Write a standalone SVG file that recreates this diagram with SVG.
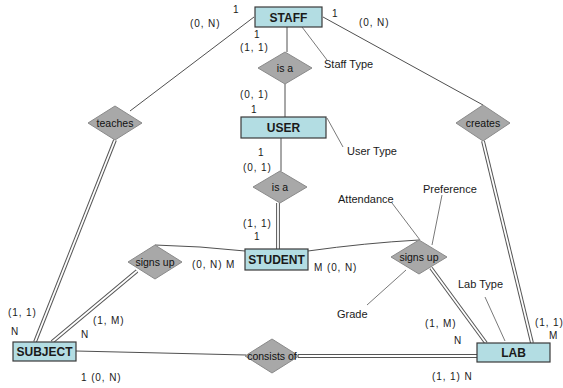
<svg xmlns="http://www.w3.org/2000/svg" width="563" height="388" viewBox="0 0 563 388">
  <style>
    text { font-family: "Liberation Sans", Arial, sans-serif; fill: #1a1a1a; }
    .ent rect { fill: #b3dde3; stroke: #3a3a3a; stroke-width: 1.2; }
    .ent text { font-size: 12px; font-weight: bold; text-anchor: middle; }
    .rel polygon { fill: #a8a8a8; stroke: #8a8a8a; stroke-width: 1; }
    .rel text { font-size: 10.5px; text-anchor: middle; fill: #111; }
    .one { stroke: #505050; stroke-width: 1; fill: none; }
    .attr { stroke: #6a6a6a; stroke-width: 0.9; fill: none; }
    .dbl-out { stroke: #555555; stroke-width: 3.8; fill: none; }
    .dbl-in { stroke: #ffffff; stroke-width: 1.8; fill: none; }
    .card { font-size: 10px; letter-spacing: 0.9px; }
    .lbl { font-size: 11px; }
  </style>

  <!-- connectors -->
  <g id="connectors">
    <!-- single lines -->
    <line class="one" x1="287" y1="27" x2="287" y2="52"/>
    <line class="one" x1="285" y1="84" x2="285" y2="117"/>
    <line class="one" x1="281" y1="138" x2="281" y2="171"/>
    <line class="one" x1="254" y1="17" x2="130" y2="111"/>
    <line class="one" x1="323" y1="17" x2="483" y2="105"/>
    <path class="one" d="M245,251 Q200,246 155,245"/>
    <path class="one" d="M308,251 Q365,243 419,240"/>
    <line class="one" x1="76" y1="351" x2="246" y2="355"/>
    <!-- attribute lines -->
    <line class="attr" x1="302" y1="27" x2="327" y2="60"/>
    <line class="attr" x1="327" y1="118" x2="343" y2="147"/>
    <line class="attr" x1="392" y1="203" x2="420" y2="240"/>
    <line class="attr" x1="442" y1="195" x2="432" y2="245"/>
    <line class="attr" x1="367" y1="305" x2="406" y2="270"/>
    <line class="attr" x1="485" y1="297" x2="505" y2="341"/>
    <!-- double lines (total participation) -->
    <line class="dbl-out" x1="278" y1="203" x2="278" y2="249"/>
    <line class="dbl-out" x1="115" y1="140" x2="35" y2="342"/>
    <line class="dbl-out" x1="483" y1="141" x2="532" y2="343"/>
    <line class="dbl-out" x1="137" y1="271" x2="52" y2="342"/>
    <line class="dbl-out" x1="431" y1="268" x2="486" y2="343"/>
    <line class="dbl-out" x1="298" y1="356" x2="477" y2="356"/>
    <line class="dbl-in" x1="278" y1="203" x2="278" y2="249"/>
    <line class="dbl-in" x1="115" y1="140" x2="35" y2="342"/>
    <line class="dbl-in" x1="483" y1="141" x2="532" y2="343"/>
    <line class="dbl-in" x1="137" y1="271" x2="52" y2="342"/>
    <line class="dbl-in" x1="431" y1="268" x2="486" y2="343"/>
    <line class="dbl-in" x1="298" y1="356" x2="477" y2="356"/>
  </g>

  <!-- entities -->
  <g id="staff" class="ent"><rect x="255" y="7" width="67" height="20"/><text x="288.5" y="21.5">STAFF</text></g>
  <g id="user" class="ent"><rect x="241" y="117" width="85" height="21"/><text x="283.5" y="132">USER</text></g>
  <g id="student" class="ent"><rect x="245" y="249" width="63" height="21"/><text x="276.5" y="264">STUDENT</text></g>
  <g id="subject" class="ent"><rect x="13" y="342" width="63" height="19"/><text x="44.5" y="356">SUBJECT</text></g>
  <g id="lab" class="ent"><rect x="477" y="343" width="73" height="19"/><text x="513.5" y="357">LAB</text></g>

  <!-- relationships -->
  <g id="isa-staff" class="rel"><polygon points="258,68 285,52 312,68 285,84"/><text x="285" y="71.5">is a</text></g>
  <g id="isa-user" class="rel"><polygon points="253,187 280,171 307,187 280,203"/><text x="280" y="190.5">is a</text></g>
  <g id="teaches" class="rel"><polygon points="88,123 115,106 142,123 115,140"/><text x="115" y="126.5">teaches</text></g>
  <g id="creates" class="rel"><polygon points="456,123 483,105 510,123 483,141"/><text x="483" y="126.5">creates</text></g>
  <g id="signs-up-subject" class="rel"><polygon points="128,262 155,245 182,262 155,279"/><text x="155" y="265.5">signs up</text></g>
  <g id="signs-up-lab" class="rel"><polygon points="391,257 419,240 447,257 419,274"/><text x="419" y="260.5">signs up</text></g>
  <g id="consists-of" class="rel"><polygon points="245,356 272,339 299,356 272,373"/><text x="272" y="359.5">consists of</text></g>

  <!-- attribute labels -->
  <g id="attributes" class="lbl">
    <text x="324" y="68">Staff Type</text>
    <text x="347" y="155">User Type</text>
    <text x="338" y="203">Attendance</text>
    <text x="423" y="193">Preference</text>
    <text x="337" y="318">Grade</text>
    <text x="458" y="288">Lab Type</text>
  </g>

  <!-- cardinalities -->
  <g id="cardinalities" class="card">
    <text x="233" y="13">1</text>
    <text x="190" y="27">(0, N)</text>
    <text x="332" y="17">1</text>
    <text x="359" y="26">(0, N)</text>
    <text x="254" y="38">1</text>
    <text x="240" y="51">(1, 1)</text>
    <text x="240" y="98">(0, 1)</text>
    <text x="251" y="113">1</text>
    <text x="258" y="156">1</text>
    <text x="243" y="171">(0, 1)</text>
    <text x="243" y="227">(1, 1)</text>
    <text x="254" y="240">1</text>
    <text x="192" y="268">(0, N) M</text>
    <text x="314" y="271">M (0, N)</text>
    <text x="8" y="316">(1, 1)</text>
    <text x="11" y="335">N</text>
    <text x="93" y="324">(1, M)</text>
    <text x="81" y="338">N</text>
    <text x="425" y="327">(1, M)</text>
    <text x="454" y="344">N</text>
    <text x="535" y="326">(1, 1)</text>
    <text x="549" y="339">M</text>
    <text x="81" y="381">1  (0, N)</text>
    <text x="432" y="380">(1, 1) N</text>
  </g>
</svg>
